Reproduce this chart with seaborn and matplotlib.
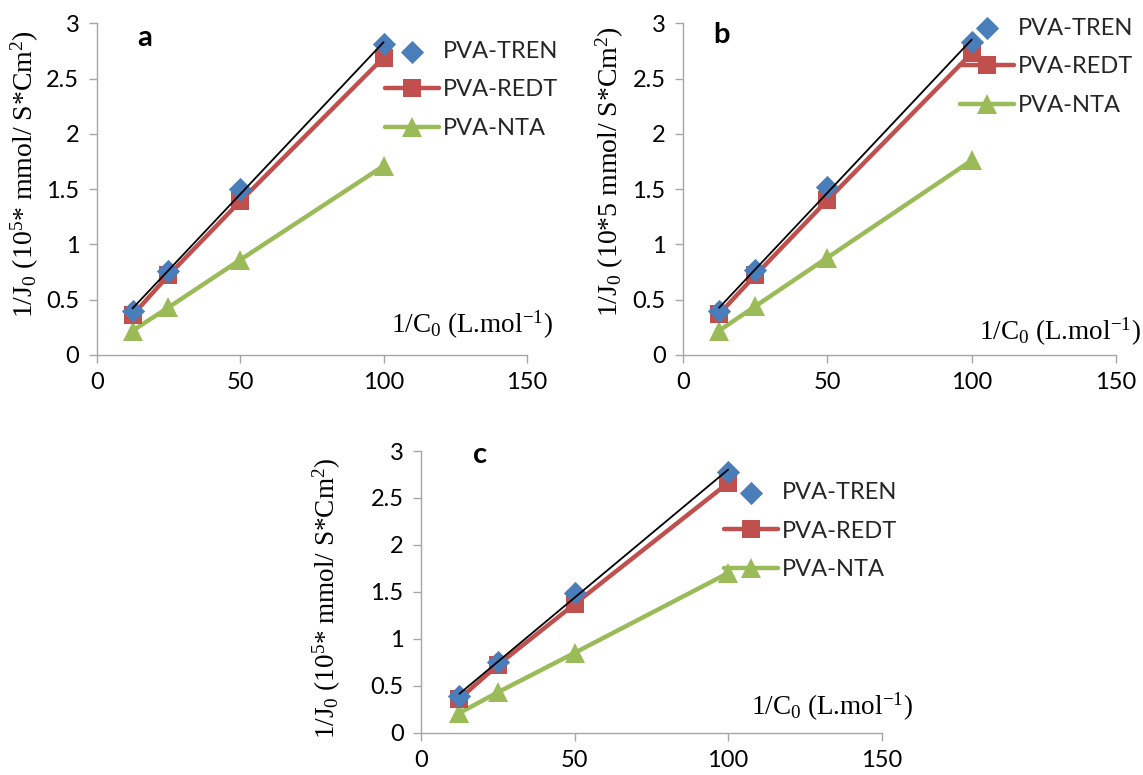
import numpy as np
import pandas as pd
import matplotlib
matplotlib.use("Agg")
import matplotlib.pyplot as plt
import seaborn as sns

# ---------------- data ----------------
x_vals = [12.5, 25, 50, 100]

tren_a = [0.40, 0.76, 1.50, 2.81]
redt_a = [0.36, 0.72, 1.39, 2.69]
nta_a = [0.22, 0.43, 0.86, 1.71]

tren_b = [0.40, 0.77, 1.52, 2.83]
redt_b = [0.37, 0.72, 1.40, 2.73]
nta_b = [0.22, 0.44, 0.88, 1.76]

tren_c = [0.39, 0.75, 1.49, 2.78]
redt_c = [0.36, 0.72, 1.37, 2.66]
nta_c = [0.21, 0.43, 0.85, 1.70]

series_names = ["PVA-TREN", "PVA-REDT", "PVA-NTA"]
panel_letters = ["a", "b", "c"]
ylabel_texts = [
    r"1/J$\mathregular{_0}$ (10$\mathregular{^5}$* mmol/ S*Cm$\mathregular{^2}$)",
    r"1/J$\mathregular{_0}$ (10*5 mmol/ S*Cm$\mathregular{^2}$)",
    r"1/J$\mathregular{_0}$ (10$\mathregular{^5}$* mmol/ S*Cm$\mathregular{^2}$)",
]
xlabel_text = r"1/C$\mathregular{_0}$ (L.mol$\mathregular{^{-1}}$)"
x_ticks = [0, 50, 100, 150]
y_ticks = [0, 0.5, 1, 1.5, 2, 2.5, 3]
y_tick_labels = ["0", "0.5", "1", "1.5", "2", "2.5", "3"]

panels = [
    (tren_a, redt_a, nta_a),
    (tren_b, redt_b, nta_b),
    (tren_c, redt_c, nta_c),
]

# ---------------- style ----------------
sns.set_theme(style="white")
plt.rcParams["font.family"] = ["Lato", "DejaVu Sans"]
plt.rcParams["mathtext.default"] = "regular"

c_blue = "#4A7EBB"
c_red = "#C0504D"
c_green = "#9BBB59"
c_axis = "#A6A6A6"

W, H = 1143, 775
fig = plt.figure(figsize=(W / 100, H / 100), dpi=100)
fig.patch.set_facecolor("white")

# axes rectangles in pixels: left, top, right, bottom
ax_px = [
    (96.7, 23.3, 527.0, 355.0),
    (683.0, 23.3, 1116.0, 355.0),
    (421.0, 451.0, 881.7, 732.7),
]

legend_anchor = [(0.670, 0.799), (0.640, 0.869), (0.658, 0.716)]
letter_pos = [(0.112, 0.932), (0.088, 0.940), (0.128, 0.957)]
xlabel_pos = [(1.061, 0.066), (1.058, 0.045), (1.067, 0.065)]
ylabel_pos = [(-0.167, 0.546), (-0.170, 0.552), (-0.204, 0.478)]

serif = ["Liberation Serif", "DejaVu Serif"]

for i, (tren, redt, nta) in enumerate(panels):
    l, t, r, b = ax_px[i]
    ax = fig.add_axes([l / W, (H - b) / H, (r - l) / W, (b - t) / H])
    ax.set_facecolor("white")

    df = pd.DataFrame({"x": x_vals, "TREN": tren, "REDT": redt, "NTA": nta})

    sns.lineplot(data=df, x="x", y="NTA", ax=ax, color=c_green, linewidth=3.2,
                 marker="^", markersize=14, markeredgewidth=0,
                 label=series_names[2], zorder=2)
    sns.lineplot(data=df, x="x", y="REDT", ax=ax, color=c_red, linewidth=3.2,
                 marker="s", markersize=13, markeredgewidth=0,
                 label=series_names[1], zorder=3)
    sns.scatterplot(data=df, x="x", y="TREN", ax=ax, color=c_blue, marker="D",
                    s=140, linewidth=0, label=series_names[0], zorder=4)
    sns.regplot(data=df, x="x", y="TREN", ax=ax, scatter=False, ci=None,
                truncate=True, color="black", line_kws={"linewidth": 1.3, "zorder": 5})

    ax.set_xlim(0, 150)
    ax.set_ylim(0, 3)
    ax.set_xticks(x_ticks)
    ax.set_xticklabels([str(v) for v in x_ticks])
    ax.set_yticks(y_ticks)
    ax.set_yticklabels(y_tick_labels)
    ax.set_xlabel("")
    ax.set_ylabel("")

    for sp in ["top", "right"]:
        ax.spines[sp].set_visible(False)
    for sp in ["left", "bottom"]:
        ax.spines[sp].set_color(c_axis)
        ax.spines[sp].set_linewidth(1.0)
    ax.tick_params(axis="both", which="major", direction="out", length=5.5,
                   width=1.0, color=c_axis, labelsize=17, labelcolor="black",
                   pad=7, left=True, bottom=True)

    # legend
    handles, labels = ax.get_legend_handles_labels()
    hmap = dict(zip(labels, handles))
    ax.legend([hmap[n] for n in series_names], series_names,
              loc="center left", bbox_to_anchor=legend_anchor[i],
              frameon=False, borderpad=0, borderaxespad=0,
              handlelength=2.3, handletextpad=0.15, labelspacing=0.75,
              scatterpoints=1, fontsize=17)

    # panel letter
    ax.text(letter_pos[i][0], letter_pos[i][1], panel_letters[i],
            transform=ax.transAxes, ha="center", va="baseline",
            fontsize=21, fontweight="bold", color="black")

    # x label inside plot
    ax.text(xlabel_pos[i][0], xlabel_pos[i][1], xlabel_text,
            transform=ax.transAxes, ha="right", va="baseline",
            fontsize=19.5, family=serif, color="black")

    # y label
    ax.text(ylabel_pos[i][0], ylabel_pos[i][1], ylabel_texts[i],
            transform=ax.transAxes, ha="center", va="center", rotation=90,
            fontsize=20 if i < 2 else 19.5, family=serif, color="black")

fig.savefig("out.png", dpi=100, facecolor="white")
